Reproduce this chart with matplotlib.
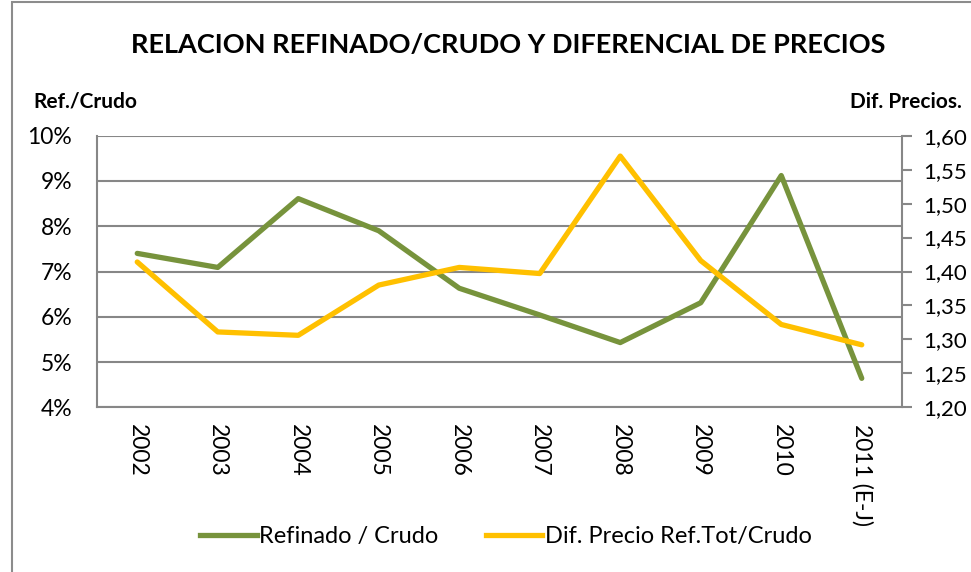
import numpy as np
import matplotlib.pyplot as plt
from matplotlib.patches import Rectangle
from matplotlib.ticker import FuncFormatter
from matplotlib.lines import Line2D

plt.rcParams['font.family'] = ['Lato', 'DejaVu Sans']

years = ["2002", "2003", "2004", "2005", "2006", "2007", "2008", "2009", "2010", "2011 (E-J)"]
ref_crudo = [7.40, 7.09, 8.61, 7.90, 6.63, 6.04, 5.43, 6.31, 9.12, 4.64]      # %
dif_precio = [1.414, 1.311, 1.306, 1.380, 1.406, 1.397, 1.570, 1.416, 1.322, 1.292]

green = "#77933C"
yellow = "#FFC000"
gray = "#878787"

fig = plt.figure(figsize=(9.71, 5.72), dpi=100)
fig.patches.append(Rectangle((12 / 971, -0.1), 1.2, 1 - 2 / 572 + 0.1, transform=fig.transFigure,
                             fill=False, edgecolor="#8c8c8c", linewidth=1.5))

ax = fig.add_axes([97 / 971, 1 - 407.3 / 572, 805 / 971, 271.6 / 572])
x = np.arange(len(years))

ax.plot(x, ref_crudo, color=green, linewidth=3.8, solid_capstyle="round", zorder=3)
ax.set_xlim(-0.5, len(years) - 0.5)
ax.set_ylim(4, 10)
ax.set_yticks(np.arange(4, 11, 1))
ax.yaxis.set_major_formatter(FuncFormatter(lambda v, p: f"{v:.0f}%"))
ax.grid(axis="y", color=gray, linewidth=1.5)
ax.set_axisbelow(True)
ax.set_xticks(x)
ax.set_xticklabels(years, rotation=-90, va="top", ha="center")
ax.tick_params(axis="x", length=0, pad=12, labelsize=16.5)
ax.tick_params(axis="y", length=0, pad=18, labelsize=16.5)
for s in ["top", "right"]:
    ax.spines[s].set_visible(False)
for s in ["left", "bottom"]:
    ax.spines[s].set_color(gray)
    ax.spines[s].set_linewidth(1.5)

ax2 = ax.twinx()
ax2.plot(x, dif_precio, color=yellow, linewidth=3.8, solid_capstyle="round", zorder=3)
ax2.set_ylim(1.20, 1.60)
ax2.set_yticks(np.arange(1.20, 1.601, 0.05))
ax2.yaxis.set_major_formatter(FuncFormatter(lambda v, p: f"{v:.2f}".replace(".", ",")))
ax2.tick_params(axis="y", length=7, width=1.5, color=gray, pad=8, labelsize=16)
for s in ["top", "left", "bottom"]:
    ax2.spines[s].set_visible(False)
ax2.spines["right"].set_color(gray)
ax2.spines["right"].set_linewidth(1.5)

fig.text(508 / 971, 1 - 45 / 572, "RELACION REFINADO/CRUDO Y DIFERENCIAL DE PRECIOS",
         ha="center", va="center", fontsize=19.5, fontweight="bold")
fig.text(33 / 971, 1 - 102 / 572, "Ref./Crudo", ha="left", va="center", fontsize=15, fontweight="bold")
fig.text(850 / 971, 1 - 102 / 572, "Dif. Precios.", ha="left", va="center", fontsize=15, fontweight="bold")

handles = [Line2D([], [], color=green, linewidth=3.8),
           Line2D([], [], color=yellow, linewidth=3.8)]
fig.legend(handles, ["Refinado / Crudo", "Dif. Precio Ref.Tot/Crudo"], loc="center",
           bbox_to_anchor=(506 / 971, 1 - 537 / 572), ncol=2, frameon=False, fontsize=17,
           handlelength=2.4, handletextpad=0.1, columnspacing=2.0)

fig.savefig("out.png", dpi=100)
